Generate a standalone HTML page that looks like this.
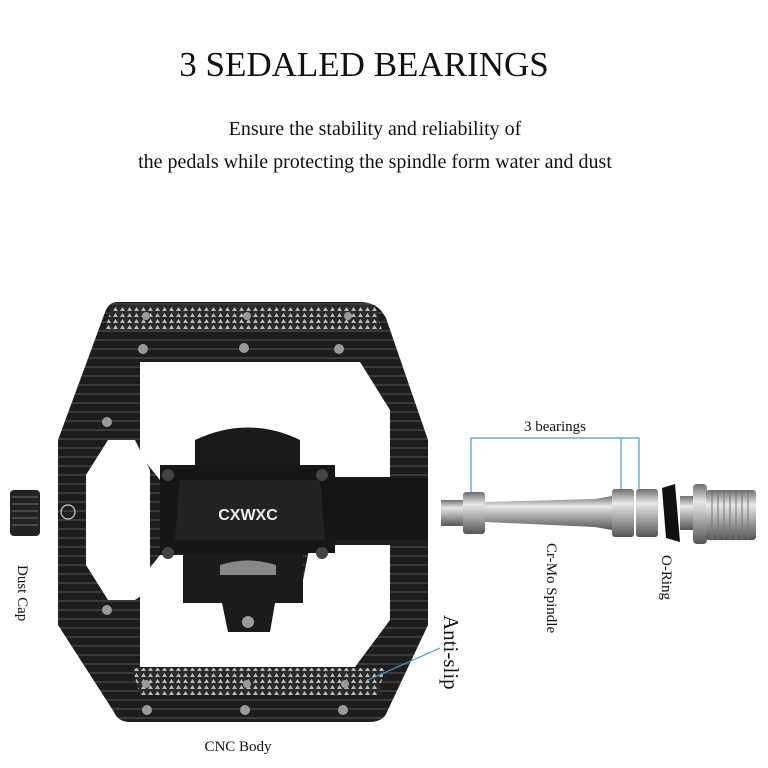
<!DOCTYPE html>
<html><head><style>
body{margin:0;background:#fff}
svg{display:block}
text{font-family:"Liberation Serif",serif;fill:#111}
</style></head><body>
<svg width="768" height="768" viewBox="0 0 768 768" xmlns="http://www.w3.org/2000/svg">
<defs>
<linearGradient id="steel" x1="0" y1="0" x2="0" y2="1">
<stop offset="0" stop-color="#6e6e6e"/><stop offset="0.3" stop-color="#e8e8e8"/><stop offset="0.6" stop-color="#a8a8a8"/><stop offset="1" stop-color="#555"/>
</linearGradient>
<pattern id="tri" width="7" height="6" patternUnits="userSpaceOnUse"><rect width="7" height="6" fill="#2a2a2a"/><path d="M1 5 L3.5 1 L6 5 Z" fill="#bbb"/></pattern>
<pattern id="ribs" width="8" height="9" patternUnits="userSpaceOnUse"><rect width="8" height="9" fill="#1d1d1e"/><rect y="6" width="8" height="2" fill="#3a3a3c"/></pattern>
</defs>
<text x="364" y="76" font-size="35" text-anchor="middle">3 SEDALED BEARINGS</text>
<text x="375" y="135" font-size="20" text-anchor="middle">Ensure the stability and reliability of</text>
<text x="375" y="168" font-size="20" text-anchor="middle">the pedals while protecting the spindle form water and dust</text>

<!-- pedal body -->
<path d="M117 302 L360 302 Q378 302 386 318 L428 440 L428 625 L387 712 Q383 722 370 722 L130 722 Q118 722 114 712 L58 625 L58 440 L104 315 Q108 302 117 302 Z" fill="url(#ribs)"/>
<path d="M112 305 L375 305 L382 330 L105 330 Z" fill="url(#tri)"/>
<path d="M132 668 L385 668 L378 695 L140 695 Z" fill="url(#tri)"/>
<!-- windows -->
<path d="M140 362 L360 362 L390 410 L390 477 L305 477 L290 455 L215 455 L195 480 L160 480 L140 455 Z" fill="#fff"/>
<path d="M108 440 L135 440 L150 470 L150 590 L135 600 L108 600 L86 565 L86 475 Z" fill="#fff"/>
<path d="M160 555 L195 555 L200 595 L300 595 L310 545 L390 545 L390 620 L355 667 L140 667 L140 580 Z" fill="#fff"/>
<!-- mechanism -->
<path d="M195 440 Q248 415 300 440 L300 465 L195 465 Z" fill="#1a1a1a"/>
<path d="M160 465 L335 465 L335 478 L428 478 L428 540 L335 540 L335 553 L160 553 Z" fill="#161617"/>
<path d="M180 480 L320 480 L325 540 L175 540 Z" fill="#232324"/>
<path d="M183 553 L303 553 L303 603 L275 603 L270 632 L228 632 L222 603 L183 603 Z" fill="#1b1b1b"/>
<path d="M220 565 Q248 556 276 565 L276 575 L220 575 Z" fill="#888"/>
<circle cx="248" cy="622" r="6" fill="#999"/>
<text x="248" y="520" font-size="16" font-weight="bold" text-anchor="middle" style="fill:#eee;font-family:'Liberation Sans',sans-serif">CXWXC</text>
<circle cx="68" cy="512" r="7" fill="none" stroke="#ccc" stroke-width="1.2"/>
<g fill="#9a9a9a">
<circle cx="146" cy="316" r="4"/><circle cx="247" cy="316" r="4"/><circle cx="348" cy="316" r="4"/>
<circle cx="143" cy="349" r="5"/><circle cx="244" cy="348" r="5"/><circle cx="339" cy="349" r="5"/>
<circle cx="107" cy="422" r="5"/><circle cx="107" cy="610" r="5"/>
<circle cx="146" cy="684" r="4"/><circle cx="247" cy="684" r="4"/><circle cx="345" cy="684" r="4"/>
<circle cx="147" cy="710" r="5"/><circle cx="245" cy="710" r="5"/><circle cx="343" cy="710" r="5"/>
</g>
<g fill="#444"><circle cx="168" cy="475" r="6"/><circle cx="322" cy="475" r="6"/><circle cx="168" cy="553" r="6"/><circle cx="322" cy="553" r="6"/></g>
<!-- dust cap -->
<rect x="10" y="490" width="30" height="46" rx="4" fill="#222"/>
<g stroke="#555" stroke-width="1.5"><line x1="12" y1="497" x2="38" y2="497"/><line x1="12" y1="504" x2="38" y2="504"/><line x1="12" y1="511" x2="38" y2="511"/><line x1="12" y1="518" x2="38" y2="518"/><line x1="12" y1="525" x2="38" y2="525"/></g>

<!-- spindle -->
<rect x="441" y="500" width="22" height="26" fill="url(#steel)"/>
<rect x="463" y="492" width="22" height="42" rx="3" fill="url(#steel)"/>
<path d="M485 502 L595 499 L612 496 L612 530 L595 527 L485 522 Z" fill="url(#steel)"/>
<rect x="612" y="489" width="22" height="48" rx="3" fill="url(#steel)"/>
<rect x="636" y="489" width="22" height="48" rx="3" fill="url(#steel)"/>
<path d="M662 488 L675 484 L680 542 L666 538 Z" fill="#111"/>
<rect x="680" y="496" width="16" height="34" fill="url(#steel)"/>
<rect x="693" y="484" width="14" height="60" rx="4" fill="url(#steel)"/>
<rect x="706" y="490" width="50" height="50" rx="3" fill="url(#steel)"/>
<g stroke="#777" stroke-width="1"><line x1="712" y1="490" x2="712" y2="540"/><line x1="718" y1="490" x2="718" y2="540"/><line x1="724" y1="490" x2="724" y2="540"/><line x1="730" y1="490" x2="730" y2="540"/><line x1="736" y1="490" x2="736" y2="540"/><line x1="742" y1="490" x2="742" y2="540"/><line x1="748" y1="490" x2="748" y2="540"/></g>

<!-- callouts -->
<g stroke="#4a9cc8" stroke-width="1.2" fill="none">
<path d="M471 492 L471 438 L639 438 L639 489"/>
<path d="M621 438 L621 489"/>
<line x1="368" y1="680" x2="440" y2="648"/>
</g>
<text x="555" y="431" font-size="15" text-anchor="middle">3 bearings</text>
<text transform="translate(547,543) rotate(90)" font-size="15">Cr-Mo Spindle</text>
<text transform="translate(662,555) rotate(90)" font-size="15">O-Ring</text>
<text transform="translate(444,615) rotate(90)" font-size="21">Anti-slip</text>
<text transform="translate(18,565) rotate(90)" font-size="15">Dust Cap</text>
<text x="238" y="751" font-size="15" text-anchor="middle">CNC Body</text>
</svg>
</body></html>
